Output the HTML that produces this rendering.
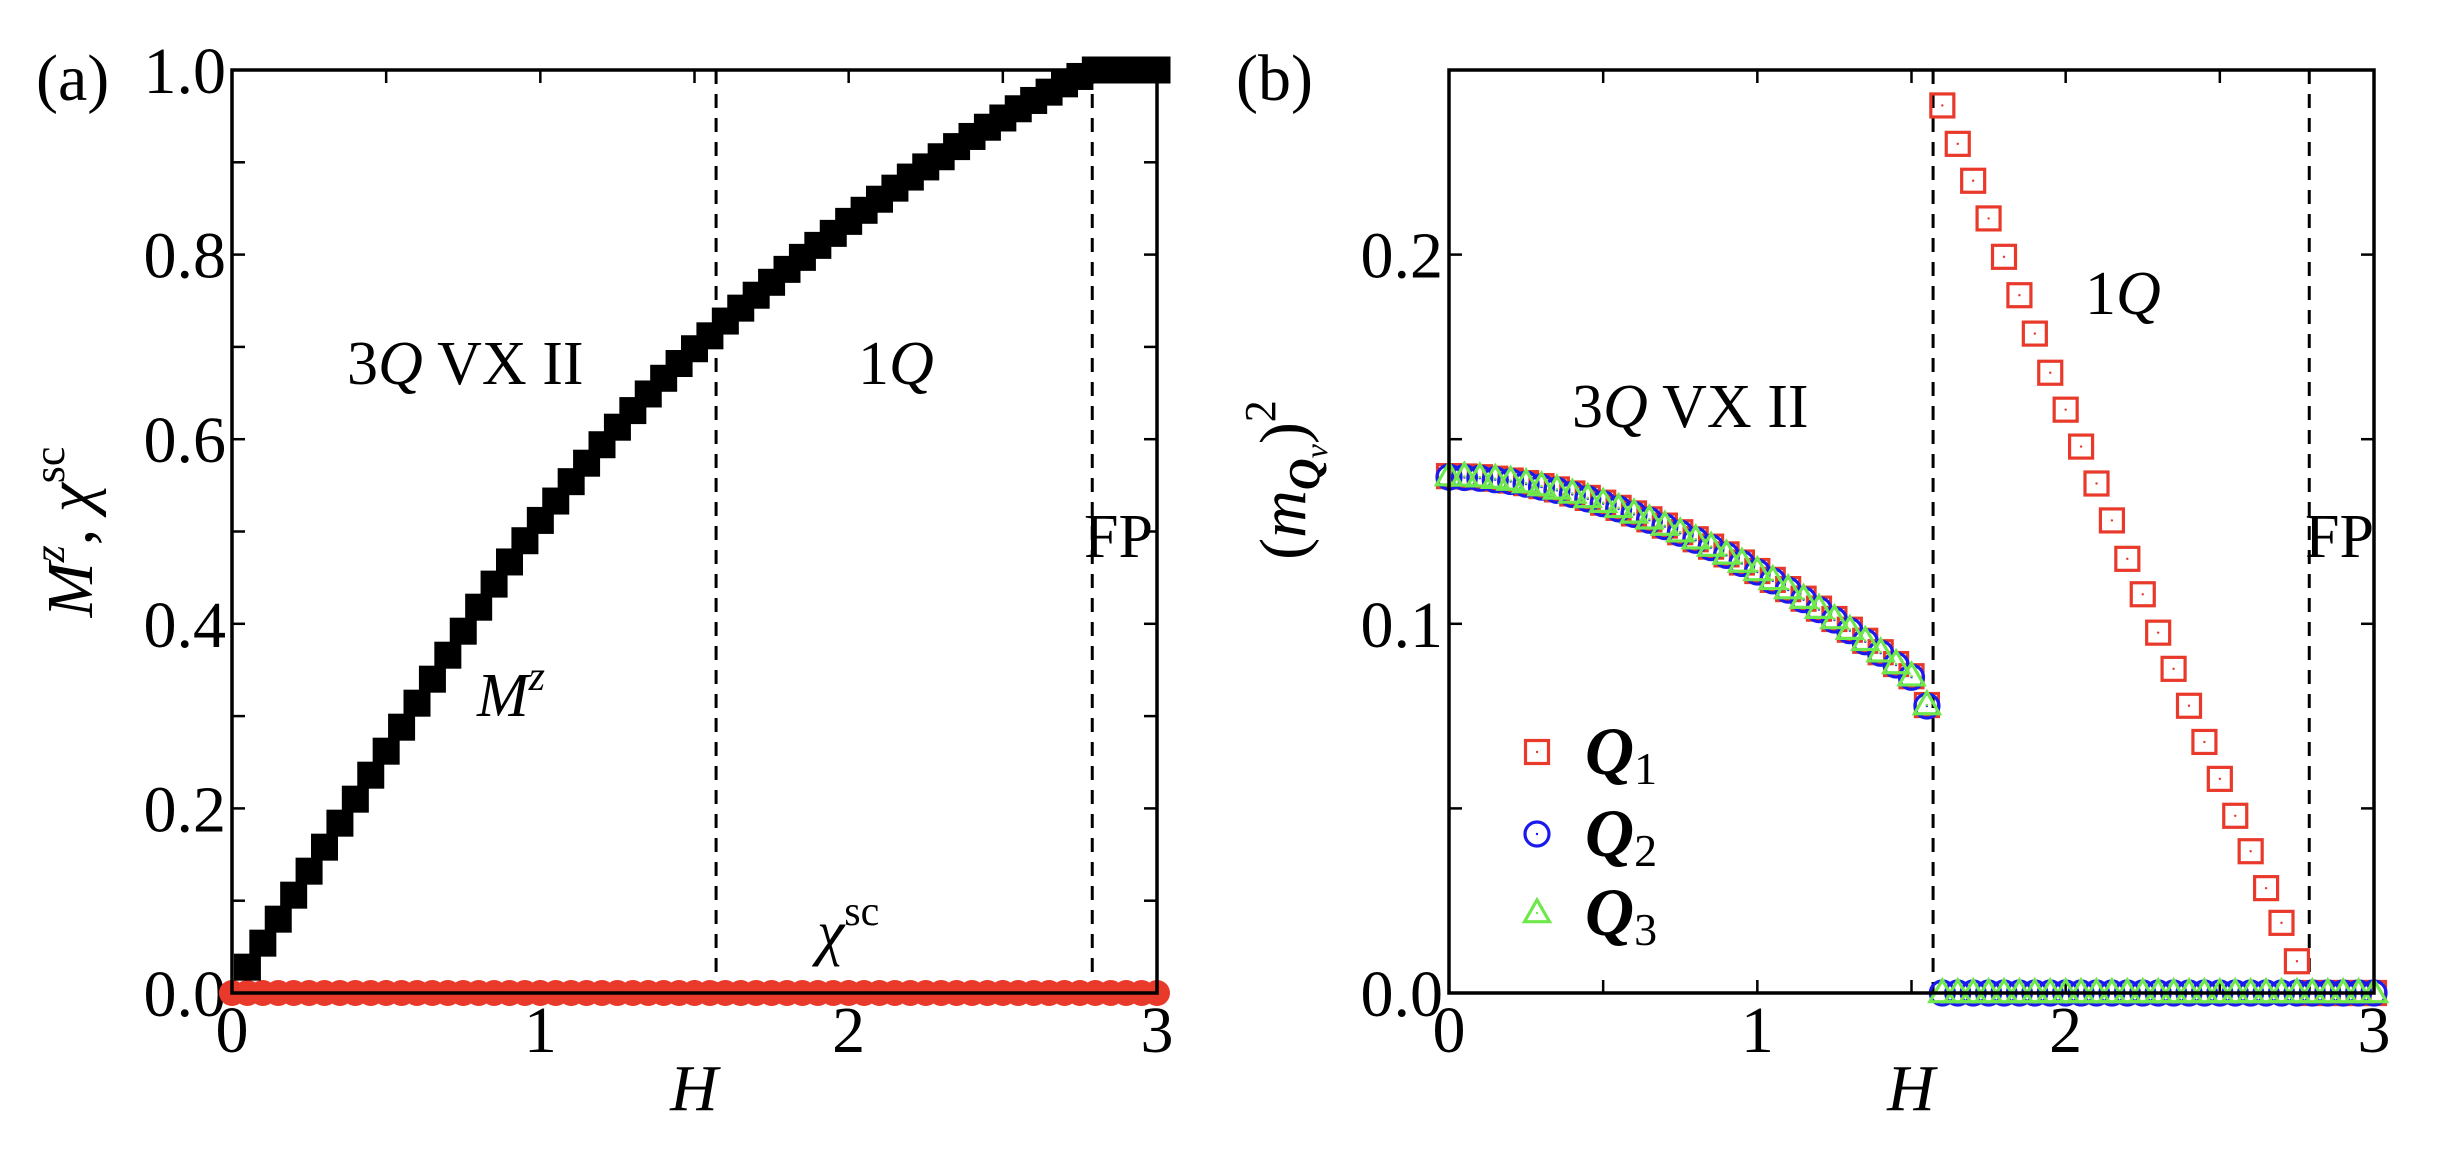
<!DOCTYPE html>
<html><head><meta charset="utf-8"><style>
html,body{margin:0;padding:0;background:#fff;}
svg{display:block;}
svg text, svg tspan{font-family:"Liberation Serif","DejaVu Serif",serif;}
</style></head><body>
<svg id="fig" width="2438" height="1158" viewBox="0 0 2438 1158" font-family="Liberation Serif, serif">
<g id="pa"></g>
<g id="pb"></g>
<g id="txt" font-size="62">
<text x="36" y="100" font-size="66">(a)</text>
<text x="1236" y="100" font-size="66">(b)</text>
<text x="347" y="384">3<tspan font-style="italic">Q</tspan> VX II</text>
<text x="858" y="384">1<tspan font-style="italic">Q</tspan></text>
<text x="1084" y="557">FP</text>
<text x="477" y="716" font-style="italic">M<tspan font-size="42" dy="-26">z</tspan></text>
<text x="817" y="953"><tspan font-style="italic">χ</tspan><tspan font-size="42" dy="-28">sc</tspan></text>
<text x="694" y="1110" font-size="66" font-style="italic" text-anchor="middle">H</text>
<text transform="translate(92,532) rotate(-90)" font-size="66" text-anchor="middle"><tspan font-style="italic">M</tspan><tspan font-size="44" font-style="italic" dy="-28">z</tspan><tspan dy="28">, </tspan><tspan font-style="italic">χ</tspan><tspan font-size="44" dy="-28">sc</tspan></text>
<text x="1572" y="427">3<tspan font-style="italic">Q</tspan> VX II</text>
<text x="2085" y="314">1<tspan font-style="italic">Q</tspan></text>
<text x="2305" y="557">FP</text>
<text x="1911" y="1110" font-size="66" font-style="italic" text-anchor="middle">H</text>
<text transform="translate(1305,480) rotate(-90)" font-size="66" text-anchor="middle">(<tspan font-style="italic">m</tspan><tspan font-size="44" font-style="italic" font-weight="bold" dy="14">Q</tspan><tspan font-size="32" font-style="italic" dy="8">ν</tspan><tspan dy="-22">)</tspan><tspan font-size="44" dy="-30">2</tspan></text>
</g>
<g id="legend"></g>
</svg>
<script>
const NS="http://www.w3.org/2000/svg";
// Panel (a) data
const aH=[0.05,0.1,0.15,0.2,0.25,0.3,0.35,0.4,0.45,0.5,0.55,0.6,0.65,0.7,0.75,0.8,0.85,0.9,0.95,1.0,1.05,1.1,1.15,1.2,1.25,1.3,1.35,1.4,1.45,1.5,1.55,1.6,1.65,1.7,1.75,1.8,1.85,1.9,1.95,2.0,2.05,2.1,2.15,2.2,2.25,2.3,2.35,2.4,2.45,2.5,2.55,2.6,2.65,2.7,2.75,2.8,2.85,2.9,2.95,3.0];
const aM=[0.028,0.054,0.08,0.106,0.132,0.158,0.184,0.21,0.236,0.262,0.288,0.314,0.34,0.366,0.392,0.418,0.443,0.467,0.49,0.512,0.533,0.554,0.574,0.594,0.613,0.631,0.649,0.666,0.682,0.698,0.712,0.728,0.742,0.756,0.77,0.784,0.797,0.81,0.823,0.836,0.848,0.86,0.872,0.884,0.895,0.906,0.917,0.928,0.938,0.948,0.958,0.967,0.976,0.985,0.993,1,1,1,1,1];
const aChiH=[0,0.05,0.1,0.15,0.2,0.25,0.3,0.35,0.4,0.45,0.5,0.55,0.6,0.65,0.7,0.75,0.8,0.85,0.9,0.95,1.0,1.05,1.1,1.15,1.2,1.25,1.3,1.35,1.4,1.45,1.5,1.55,1.6,1.65,1.7,1.75,1.8,1.85,1.9,1.95,2.0,2.05,2.1,2.15,2.2,2.25,2.3,2.35,2.4,2.45,2.5,2.55,2.6,2.65,2.7,2.75,2.8,2.85,2.9,2.95,3.0];
const aChi=[0,0,0,0,0,0,0,0,0,0,0,0,0,0,0,0,0,0,0,0,0,0,0,0,0,0,0,0,0,0,0,0,0,0,0,0,0,0,0,0,0,0,0,0,0,0,0,0,0,0,0,0,0,0,0,0,0,0,0,0,0];
const aYTicks=["0.0","0.2","0.4","0.6","0.8","1.0"];
const xTicks=["0","1","2","3"];
const transitions=[1.57,2.79];
// Panel (b) data
const b3H=[0,0.05,0.1,0.15,0.2,0.25,0.3,0.35,0.4,0.45,0.5,0.55,0.6,0.65,0.7,0.75,0.8,0.85,0.9,0.95,1.0,1.05,1.1,1.15,1.2,1.25,1.3,1.35,1.4,1.45,1.5,1.55];
const b3Q=[0.140,0.1399,0.1397,0.1393,0.1388,0.1381,0.1373,0.1364,0.1353,0.1341,0.1328,0.1314,0.1299,0.1283,0.1266,0.1248,0.1229,0.1209,0.1188,0.1166,0.1143,0.1119,0.1094,0.1068,0.1041,0.1013,0.0984,0.0954,0.0923,0.0891,0.0858,0.0780];
const b1H=[1.6,1.65,1.7,1.75,1.8,1.85,1.9,1.95,2.0,2.05,2.1,2.15,2.2,2.25,2.3,2.35,2.4,2.45,2.5,2.55,2.6,2.65,2.7,2.75,2.8,2.85,2.9,2.95,3.0];
const b1Q1=[0.2404,0.230,0.220,0.2098,0.1994,0.189,0.1786,0.168,0.158,0.148,0.138,0.128,0.1176,0.108,0.0976,0.0878,0.0778,0.068,0.058,0.048,0.0384,0.0284,0.019,0.0086,0,0,0,0,0];
const b1Q2=[0,0,0,0,0,0,0,0,0,0,0,0,0,0,0,0,0,0,0,0,0,0,0,0,0,0,0,0,0];
const b1Q3=[0,0,0,0,0,0,0,0,0,0,0,0,0,0,0,0,0,0,0,0,0,0,0,0,0,0,0,0,0];
const bYTicks=["0.0","0.1","0.2"];

function el(tag,attrs,parent){const e=document.createElementNS(NS,tag);for(const k in attrs)e.setAttribute(k,attrs[k]);parent.appendChild(e);return e;}

function axes(g,L,T,W,Hh,ymax,yMajor,yMinorStep,yLabels){
  const sx=v=>L+v/3*W, sy=v=>T+Hh-v/ymax*Hh;
  for(let x=0;x<=3.0001;x+=0.5){
    const t=el('line',{x1:sx(x),x2:sx(x),y1:T+Hh,y2:T+Hh-13,stroke:'#000','stroke-width':2.5},g);
    
    
    const t2=el('line',{x1:sx(x),x2:sx(x),y1:T,y2:T+13,stroke:'#000','stroke-width':2.5},g);
    
    
  }
  for(let y=0;y<=ymax+1e-9;y+=yMinorStep){
    const t=el('line',{x1:L,x2:L+13,y1:sy(y),y2:sy(y),stroke:'#000','stroke-width':2.5},g);
    
    
    const t2=el('line',{x1:L+W,x2:L+W-13,y1:sy(y),y2:sy(y),stroke:'#000','stroke-width':2.5},g);
    
    
  }
  xTicks.forEach((s,i)=>{
    const t=el('text',{x:sx(+s),y:1052,'font-size':66,'text-anchor':'middle'},g);t.textContent=s;
    
    
  });
  yLabels.forEach(s=>{
    const t=el('text',{x:L-6,y:sy(+s)+23,'font-size':66,'text-anchor':'end'},g);t.textContent=s;
    
    
  });
  transitions.forEach(h=>{
    const d=el('line',{x1:sx(h),x2:sx(h),y1:T,y2:T+Hh,stroke:'#000','stroke-width':3,'stroke-dasharray':'14,10'},g);
    
    
  });
  return {sx,sy};
}
function frame(g,L,T,W,Hh){
  const r=el('rect',{x:L,y:T,width:W,height:Hh,fill:'none',stroke:'#000','stroke-width':3.5},g);
  
  
}
const RED='#e8392a',BLUE='#1a1aee',GREEN='#6ee84a';
function sq(g,x,y,s,fill,stroke,name){
  const r=el('rect',{x:x-s/2,y:y-s/2,width:s,height:s,fill:fill,stroke:stroke,'stroke-width':stroke=='none'?0:3.2},g);
  
  
  if(fill=='none'){el('circle',{cx:x,cy:y,r:1.2,fill:stroke},g);}
}
function circ(g,x,y,r,fill,stroke,name){
  const c=el('circle',{cx:x,cy:y,r:r,fill:fill,stroke:stroke,'stroke-width':fill=='none'?3.2:0},g);
  
  
  if(fill=='none')el('circle',{cx:x,cy:y,r:1.2,fill:stroke},g);
}
function tri(g,x,y,s,stroke,name){
  const h=s*0.87;
  const p=el('polygon',{points:`${x},${y-h*0.6} ${x-s/2},${y+h*0.4} ${x+s/2},${y+h*0.4}`,fill:'none',stroke:stroke,'stroke-width':3.2},g);
  
  
  el('circle',{cx:x,cy:y,r:1.2,fill:stroke},g);
}
// Panel a
const ga=document.getElementById('pa');
const A=axes(ga,232,70,925,923,1.0,0.2,0.1,aYTicks);
aChiH.forEach((h,i)=>circ(ga,A.sx(h),A.sy(aChi[i]),13,RED,'none','chisc-point'));
aH.forEach((h,i)=>sq(ga,A.sx(h),A.sy(aM[i]),27,'#000','none','mz-point'));
frame(ga,232,70,925,923);
// Panel b
const gb=document.getElementById('pb');
const B=axes(gb,1449,70,925,923,0.25,0.1,0.05,bYTicks);
b3H.forEach((h,i)=>sq(gb,B.sx(h),B.sy(b3Q[i]),23,'none',RED,'q1-point'));
b3H.forEach((h,i)=>circ(gb,B.sx(h),B.sy(b3Q[i])+1,12,'none',BLUE,'q2-point'));
b3H.forEach((h,i)=>tri(gb,B.sx(h),B.sy(b3Q[i]),25,GREEN,'q3-point'));
b1H.forEach((h,i)=>sq(gb,B.sx(h),B.sy(b1Q1[i]),23,'none',RED,'q1-point'));
b1H.forEach((h,i)=>circ(gb,B.sx(h),B.sy(b1Q2[i]),12,'none',BLUE,'q2-point'));
b1H.forEach((h,i)=>tri(gb,B.sx(h),B.sy(b1Q3[i]),25,GREEN,'q3-point'));
frame(gb,1449,70,925,923);
// Legend
const lg=document.getElementById('legend');
const entries=[['1',752,'sq'],['2',834,'c'],['3',913,'t']];
entries.forEach(([n,y,k])=>{
  if(k=='sq')sq(lg,1537,y,23,'none',RED,'legend-marker-q1');
  if(k=='c')circ(lg,1537,y,12,'none',BLUE,'legend-marker-q2');
  if(k=='t')tri(lg,1537,y,25,GREEN,'legend-marker-q3');
  const t=el('text',{x:1585,y:y+22,'font-size':68,'font-weight':'bold','font-style':'italic'},lg);
  t.innerHTML='Q<tspan font-size="46" font-weight="normal" font-style="normal" dy="10">'+n+'</tspan>';
  
  
});
</script>
</body></html>
